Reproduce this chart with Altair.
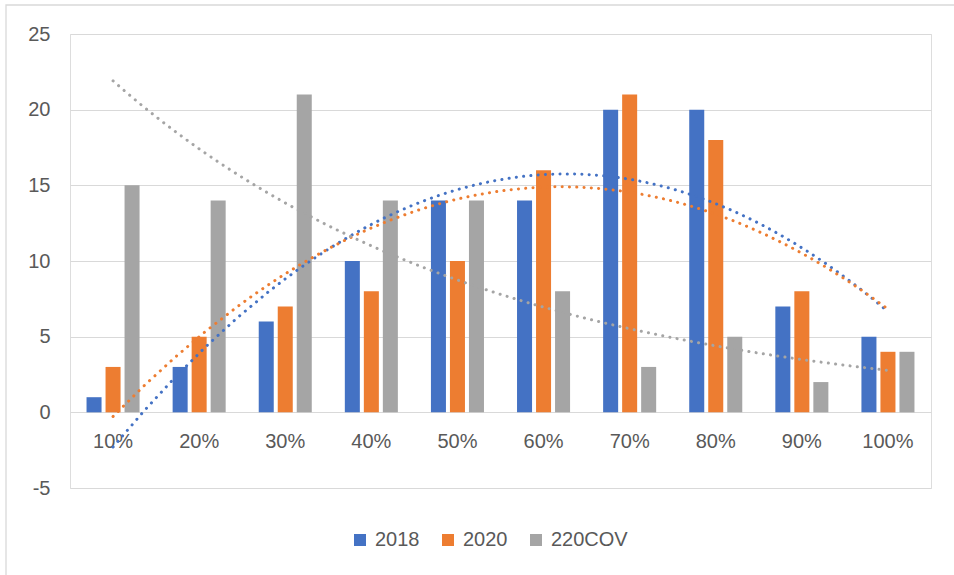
import altair as alt
import pandas as pd

categories = ["10%", "20%", "30%", "40%", "50%", "60%", "70%", "80%", "90%", "100%"]
positions = [1, 2, 3, 4, 5, 6, 7, 8, 9, 10]
series_names = ["2018", "2020", "220COV"]
values_2018 = [1, 3, 6, 10, 14, 14, 20, 20, 7, 5]
values_2020 = [3, 5, 7, 8, 10, 16, 21, 18, 8, 4]
values_220cov = [15, 14, 21, 14, 14, 8, 3, 5, 2, 4]
colors = ["#4472C4", "#ED7D31", "#A5A5A5"]
y_ticks = [-5, 0, 5, 10, 15, 20, 25]

rows = []
for s, vals in zip(series_names, [values_2018, values_2020, values_220cov]):
    for c, p, v in zip(categories, positions, vals):
        rows.append({"cat": c, "pos": p, "series": s, "v": v})
df = pd.DataFrame(rows)

W, H = 861, 454
FONT = "Liberation Sans"
TXT = "#595959"
GRID = "#D9D9D9"

color_scale = alt.Scale(domain=series_names, range=colors)
y_scale = alt.Scale(domain=[-5, 25], nice=False, zero=False)
y_axis = alt.Axis(title=None, values=y_ticks, domain=False, ticks=False, labelPadding=20,
                  gridColor=GRID, gridWidth=1, labelFontSize=20, labelColor=TXT, labelFont=FONT,
                  labelExpr="'' + datum.value")
xq_scale = alt.Scale(domain=[0.5, 10.5], nice=False, zero=False)

bars = alt.Chart(df).mark_bar().encode(
    x=alt.X("cat:N", sort=categories,
            scale=alt.Scale(paddingInner=0.384, paddingOuter=0.192),
            axis=alt.Axis(title=None, domain=False, ticks=False, grid=False, labelAngle=0,
                          labelPadding=19, offset=-H * 5 / 30, labelFontSize=20,
                          labelColor=TXT, labelFont=FONT)),
    xOffset=alt.XOffset("series:N", sort=series_names,
                        scale=alt.Scale(paddingInner=0.21, paddingOuter=0)),
    y=alt.Y("v:Q", scale=y_scale, axis=y_axis),
    color=alt.Color("series:N", scale=color_scale,
                    legend=alt.Legend(orient="none", legendX=280, legendY=496,
                                      direction="horizontal", title=None,
                                      symbolType="square", symbolSize=144,
                                      symbolStrokeWidth=0, labelFontSize=20,
                                      labelColor=TXT, labelFont=FONT, labelOffset=5,
                                      columnPadding=18, padding=0)),
)

dot = dict(strokeDash=[0.1, 7.2], strokeCap="round", strokeWidth=3)

poly = alt.Chart(df).transform_filter(
    alt.FieldOneOfPredicate(field="series", oneOf=["2018", "2020"])
).transform_regression(
    "pos", "v", method="poly", order=2, groupby=["series"], extent=[1, 10]
).mark_line(**dot).encode(
    x=alt.X("pos:Q", scale=xq_scale, axis=None),
    y=alt.Y("v:Q", scale=y_scale, axis=y_axis),
    color=alt.Color("series:N", scale=color_scale, legend=None),
)

# Exponential trendline (least squares on log of values, as in a spreadsheet)
expo = alt.Chart(df).transform_filter(
    alt.datum.series == "220COV"
).transform_calculate(
    ly="log(datum.v)"
).transform_joinaggregate(
    mx="mean(pos)", my="mean(ly)"
).transform_calculate(
    dxy="(datum.pos - datum.mx) * (datum.ly - datum.my)",
    dxx="(datum.pos - datum.mx) * (datum.pos - datum.mx)",
).transform_joinaggregate(
    sxy="sum(dxy)", sxx="sum(dxx)"
).transform_filter(
    alt.datum.pos == 1
).transform_calculate(
    slope="datum.sxy / datum.sxx",
    t="sequence(1, 10.001, 0.1)",
).transform_flatten(["t"]).transform_calculate(
    tv="exp(datum.my + datum.slope * (datum.t - datum.mx))"
).mark_line(**dot).encode(
    x=alt.X("t:Q", scale=xq_scale, axis=None),
    y=alt.Y("tv:Q", scale=y_scale, axis=y_axis),
    color=alt.Color("series:N", scale=color_scale, legend=None),
)

border = alt.Chart(alt.Data(values=[{"a": 1}])).mark_rect(
    fill="white", fillOpacity=0, stroke=GRID, strokeWidth=1.3
).encode(
    x=alt.value(-64), y=alt.value(-29), x2=alt.value(W + 60), y2=alt.value(H + 120)
)

chart = alt.layer(border, bars, poly, expo).resolve_scale(
    x="independent"
).resolve_legend(color="independent").properties(
    width=W, height=H,
    autosize=alt.AutoSizeParams(type="none"),
    padding={"left": 70, "top": 34, "right": 23, "bottom": 87},
).configure_view(stroke=None).configure(background="white")

chart.save("out.html", embed_options={"renderer": "svg", "actions": False})
